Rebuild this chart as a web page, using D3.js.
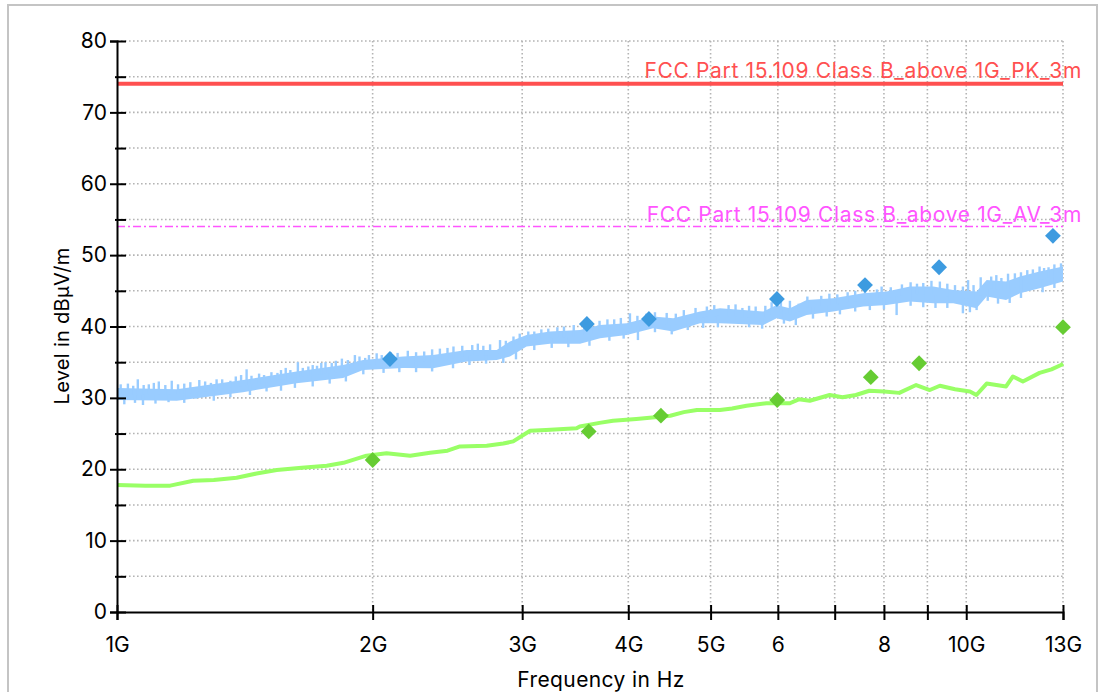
<!DOCTYPE html>
<html>
<head>
<meta charset="utf-8">
<script src="https://cdn.jsdelivr.net/npm/d3@7"></script>
<style>
  body { margin: 0; background: #fff; }
  svg { display: block; font-family: Inter, 'Liberation Sans', sans-serif; }
</style>
</head>
<body>
<div id="chart"></div>
<script>
// frequencies in GHz, levels in dBuV/m
const xTicks = [1, 2, 3, 4, 5, 6, 7, 8, 9, 10, 13];
const xTickLabels = ['1G', '2G', '3G', '4G', '5G', '6', '', '8', '', '10G', '13G'];
const yTicks = [0, 5, 10, 15, 20, 25, 30, 35, 40, 45, 50, 55, 60, 65, 70, 75, 80];

const limitPK = 74;
const limitAV = 54;
const limitPKLabel = 'FCC Part 15.109 Class B_above 1G_PK_3m';
const limitAVLabel = 'FCC Part 15.109 Class B_above 1G_AV_3m';

// peak trace (drawn as a noisy band)
const pkFreq = [1.0, 1.176, 1.407, 1.627, 1.846, 1.949, 2.172, 2.356, 2.58, 2.8, 2.902, 3.036, 3.235,
  3.51, 3.705, 3.983, 4.28, 4.519, 4.859, 5.129, 5.768, 5.981, 6.199, 6.488, 6.972, 7.563, 8.058,
  8.585, 9.145, 9.654, 10.285, 10.57, 11.14, 11.57, 12.2, 13.0];
const pkHigh = [31.4, 31.2, 32.5, 33.7, 34.6, 35.3, 35.8, 36.0, 36.7, 36.7, 37.9, 38.8, 39.3,
  39.5, 40.2, 40.45, 41.4, 41.15, 42.1, 42.55, 42.1, 43.0, 42.55, 43.7, 43.95, 44.65, 44.9,
  45.6, 45.6, 45.1, 44.9, 46.5, 46.3, 47.0, 47.7, 48.4];
const pkLow = [29.7, 29.6, 30.8, 32.05, 32.8, 33.9, 34.2, 34.15, 35.1, 35.3, 35.8, 37.2, 37.6,
  37.6, 38.35, 38.8, 39.75, 39.3, 40.45, 40.45, 40.2, 41.15, 40.7, 41.6, 42.1, 42.8, 43.0,
  43.5, 43.25, 43.25, 42.55, 44.2, 43.7, 44.65, 45.35, 46.3];

const spikeUpFreq = [1.01, 1.03, 1.045, 1.058, 1.075, 1.09, 1.105, 1.12, 1.14, 1.16, 1.18,
  1.2, 1.22, 1.25, 1.27, 1.29, 1.31, 1.33, 1.36, 1.38, 1.4, 1.421, 1.44,
  1.47, 1.49, 1.52, 1.545, 1.56, 1.58, 1.6, 1.633, 1.655, 1.68, 1.7,
  1.72, 1.74, 1.76, 1.79, 1.81, 1.84, 1.87, 1.906, 1.93, 1.96, 1.98,
  2.022, 2.05, 2.1, 2.14, 2.2, 2.25, 2.3, 2.35, 2.4, 2.45, 2.49,
  2.55, 2.62, 2.66, 2.7, 2.75, 2.825, 2.87, 2.93, 2.98,
  3.05, 3.1, 3.16, 3.22, 3.3, 3.36, 3.45,
  3.55, 3.62, 3.7, 3.78, 3.85, 3.92, 4.018, 4.1, 4.2, 4.3, 4.439,
  4.55, 4.65, 4.8, 4.95, 5.05, 5.25, 5.35, 5.45, 5.55, 5.65, 5.8, 5.9,
  6.05, 6.2, 6.35, 6.5, 6.75, 6.9, 7.05, 7.25, 7.4, 7.6, 7.85, 7.95,
  8.15, 8.4, 8.6, 8.75, 8.9, 9.1, 9.31, 9.5, 9.7, 9.91,
  10.05, 10.2, 10.4, 10.7, 10.85, 11.0, 11.2, 11.41, 11.6, 11.8, 11.98, 12.2, 12.35, 12.5, 12.7, 12.93];
const spikeUpLevel = [31.9, 32.0, 31.7, 32.6, 31.8, 31.9, 32.1, 32.3, 31.8, 32.4, 31.9,
  32.0, 32.2, 32.5, 32.3, 32.1, 32.6, 32.6, 32.4, 33.0, 33.2, 34.0, 33.1,
  33.4, 33.2, 33.6, 33.5, 33.9, 34.2, 33.9, 35.0, 34.2, 34.4, 34.6,
  34.5, 34.9, 35.0, 34.9, 35.2, 35.5, 35.3, 36.0, 35.8, 35.6, 36.0,
  36.25, 36.0, 36.4, 36.3, 36.6, 36.4, 36.5, 36.8, 36.9, 37.0, 37.2,
  37.3, 37.4, 37.6, 37.3, 37.5, 38.1, 38.0, 38.6, 39.0,
  39.3, 39.3, 39.6, 39.7, 39.9, 40.0, 40.2,
  40.3, 40.6, 40.8, 41.0, 41.0, 41.2, 41.85, 41.5, 41.8, 42.0, 41.9,
  41.8, 42.3, 42.6, 42.8, 43.0, 43.0, 43.1, 42.6, 42.9, 42.8, 42.9, 43.4,
  43.8, 43.6, 43.2, 44.2, 44.3, 44.6, 44.5, 44.8, 45.0, 45.3, 45.2, 45.6,
  45.5, 45.9, 46.2, 46.0, 46.1, 46.4, 46.3, 46.0, 45.8, 45.6,
  46.5, 45.8, 46.9, 47.0, 47.2, 46.8, 47.4, 47.45, 47.6, 47.9, 48.0, 48.4, 48.2, 48.3, 48.7, 48.85];
const spikeDownFreq = [1.02, 1.05, 1.073, 1.11, 1.15, 1.2, 1.24, 1.3, 1.36, 1.434, 1.5, 1.56, 1.62,
  1.7, 1.78, 1.86, 1.95, 2.06, 2.15, 2.25, 2.35, 2.487, 2.6, 2.72, 2.85, 2.95, 3.1, 3.25, 3.4,
  3.6, 3.8, 3.95, 4.106, 4.3, 4.5, 4.7, 4.9, 5.1, 5.55, 5.75, 6.1, 6.3, 6.6, 6.85, 7.1, 7.4,
  7.7, 8.0, 8.28, 8.6, 8.9, 9.2, 9.5, 9.91, 10.1, 10.285, 10.6, 10.9, 11.25, 11.6, 12.3, 12.7];
const spikeDownLevel = [29.1, 29.3, 29.0, 29.2, 29.4, 29.3, 29.9, 29.6, 30.1, 30.4, 30.9, 31.0, 31.4,
  31.6, 32.0, 32.3, 33.3, 33.5, 33.6, 33.6, 33.7, 34.15, 34.6, 34.8, 34.9, 35.4, 36.7, 37.0, 37.1,
  37.3, 38.0, 38.3, 38.1, 39.2, 38.9, 39.5, 39.8, 39.9, 39.9, 39.7, 40.4, 40.2, 41.1, 41.4, 41.7, 42.1,
  42.3, 42.4, 41.6, 42.9, 42.7, 42.6, 42.6, 41.85, 42.0, 42.3, 43.6, 43.2, 43.3, 44.0, 44.8, 45.4];

// average trace
const avFreq = [1.0, 1.08, 1.155, 1.23, 1.3, 1.383, 1.46, 1.542, 1.65, 1.766, 1.848, 1.967, 2.077,
  2.214, 2.337, 2.45, 2.534, 2.725, 2.85, 2.928, 3.065, 3.2, 3.477, 3.507, 3.7, 3.838, 4.088, 4.3,
  4.482, 4.65, 4.818, 5.128, 5.3, 5.512, 5.817, 6.199, 6.35, 6.543, 6.906, 7.15, 7.414, 7.69,
  8.0, 8.34, 8.73, 9.06, 9.31, 9.7, 10.1, 10.28, 10.57, 11.14, 11.35, 11.66, 12.2, 12.6, 12.93, 13.0];
const avLevel = [17.8, 17.7, 17.7, 18.4, 18.5, 18.8, 19.4, 19.9, 20.2, 20.5, 20.9, 21.9, 22.25,
  21.9, 22.3, 22.6, 23.2, 23.3, 23.6, 23.9, 25.4, 25.5, 25.75, 26.0, 26.5, 26.8, 27.05, 27.3,
  27.5, 28.0, 28.3, 28.3, 28.5, 28.9, 29.25, 29.25, 29.8, 29.6, 30.4, 30.1, 30.4, 31.0,
  30.9, 30.7, 31.8, 31.1, 31.7, 31.2, 30.9, 30.4, 32.0, 31.6, 33.0, 32.3, 33.5, 34.0, 34.6, 34.8];

// final measurement markers
const pkMarkFreq = [2.096, 3.575, 4.23, 5.985, 7.6, 9.29, 12.65];
const pkMarkLevel = [35.45, 40.35, 41.05, 43.85, 45.8, 48.3, 52.7];
const avMarkFreq = [2.0, 3.593, 4.37, 5.99, 7.72, 8.8, 13.0];
const avMarkLevel = [21.3, 25.3, 27.5, 29.7, 32.9, 34.85, 39.9];

const width = 1100;
const height = 692;
const plot = { l: 117, r: 1063, t: 41, b: 612 };

const svg = d3
  .select('#chart')
  .append('svg')
  .attr('width', width)
  .attr('height', height);

// outer frame
svg
  .append('rect')
  .attr('x', 8)
  .attr('y', 5)
  .attr('width', 1089)
  .attr('height', 700)
  .attr('fill', 'none')
  .attr('stroke', '#c4c4c4')
  .attr('stroke-width', 2);

const x = d3.scaleLog().domain([1, 13]).range([plot.l, plot.r]);
const y = d3.scaleLinear().domain([0, 80]).range([plot.b, plot.t]);

// grid
const grid = svg.append('g').attr('stroke', '#b4b4b4').attr('stroke-width', 1.6).attr('stroke-dasharray', '1.6,2.4');
grid
  .selectAll('.gy')
  .data(yTicks.filter((d) => d > 0))
  .join('line')
  .attr('x1', plot.l)
  .attr('x2', plot.r)
  .attr('y1', (d) => y(d))
  .attr('y2', (d) => y(d));
grid
  .selectAll('.gx')
  .data(xTicks.filter((d) => d > 1))
  .join('line')
  .attr('x1', (d) => x(d))
  .attr('x2', (d) => x(d))
  .attr('y1', plot.t)
  .attr('y2', plot.b);

// limit lines
svg
  .append('line')
  .attr('x1', x(1))
  .attr('x2', x(13))
  .attr('y1', y(limitPK))
  .attr('y2', y(limitPK))
  .attr('stroke', '#ff5050')
  .attr('stroke-width', 4);
svg
  .append('line')
  .attr('x1', x(1))
  .attr('x2', x(13))
  .attr('y1', y(limitAV))
  .attr('y2', y(limitAV))
  .attr('stroke', '#ff55ff')
  .attr('stroke-width', 1.5)
  .attr('stroke-dasharray', '8,3,2,3');

// average trace
const avData = avFreq.map((f, i) => [f, avLevel[i]]);
svg
  .append('path')
  .datum(avData)
  .attr('fill', 'none')
  .attr('stroke', '#99ff66')
  .attr('stroke-width', 4)
  .attr('stroke-linejoin', 'round')
  .attr('d', d3.line().x((d) => x(d[0])).y((d) => y(d[1])));

// peak trace band
const pkData = pkFreq.map((f, i) => ({ f, hi: pkHigh[i], lo: pkLow[i] }));
svg
  .append('path')
  .datum(pkData)
  .attr('fill', '#99ccff')
  .attr('d', d3.area().x((d) => x(d.f)).y0((d) => y(d.lo)).y1((d) => y(d.hi)));

const bis = d3.bisector((d) => d.f).left;
function bandMid(f) {
  const i = Math.max(1, Math.min(pkData.length - 1, bis(pkData, f)));
  const a = pkData[i - 1];
  const b = pkData[i];
  const t = (Math.log(f) - Math.log(a.f)) / (Math.log(b.f) - Math.log(a.f));
  return ((a.hi + a.lo) / 2) * (1 - t) + ((b.hi + b.lo) / 2) * t;
}

const spikes = spikeUpFreq
  .map((f, i) => [f, spikeUpLevel[i]])
  .concat(spikeDownFreq.map((f, i) => [f, spikeDownLevel[i]]));
svg
  .append('g')
  .attr('stroke', '#99ccff')
  .attr('stroke-width', 2.4)
  .selectAll('line')
  .data(spikes)
  .join('line')
  .attr('x1', (d) => x(d[0]))
  .attr('x2', (d) => x(d[0]))
  .attr('y1', (d) => y(bandMid(d[0])))
  .attr('y2', (d) => y(d[1]));

// limit labels
svg
  .append('text')
  .attr('x', 1082)
  .attr('y', 78)
  .attr('text-anchor', 'end')
  .attr('font-size', 21)
  .attr('letter-spacing', 0.65)
  .attr('fill', '#ff5050')
  .text(limitPKLabel);
svg
  .append('text')
  .attr('x', 1082)
  .attr('y', 222)
  .attr('text-anchor', 'end')
  .attr('font-size', 21)
  .attr('letter-spacing', 0.65)
  .attr('fill', '#ff55ff')
  .text(limitAVLabel);

// markers
const diamond = d3.symbol(d3.symbolSquare, 125);
svg
  .append('g')
  .selectAll('path')
  .data(pkMarkFreq.map((f, i) => [f, pkMarkLevel[i]]))
  .join('path')
  .attr('d', diamond)
  .attr('fill', '#3d9be0')
  .attr('transform', (d) => `translate(${x(d[0])},${y(d[1])}) rotate(45)`);
svg
  .append('g')
  .selectAll('path')
  .data(avMarkFreq.map((f, i) => [f, avMarkLevel[i]]))
  .join('path')
  .attr('d', diamond)
  .attr('fill', '#66cc33')
  .attr('transform', (d) => `translate(${x(d[0])},${y(d[1])}) rotate(45)`);

// axes
const yAxis = svg
  .append('g')
  .attr('transform', `translate(${plot.l},0)`)
  .call(
    d3
      .axisLeft(y)
      .tickValues(yTicks)
      .tickFormat((d) => (d % 10 === 0 ? d : ''))
      .tickSizeOuter(0)
      .tickSize(7)
      .tickPadding(3),
  );
yAxis.selectAll('.tick line').attr('x1', 9).attr('x2', (d) => (d % 10 === 0 ? -7 : -2));

const xAxis = svg
  .append('g')
  .attr('transform', `translate(0,${plot.b})`)
  .call(
    d3
      .axisBottom(x)
      .tickValues(xTicks)
      .tickFormat((d, i) => xTickLabels[i])
      .tickSizeOuter(0)
      .tickSize(8)
      .tickPadding(17),
  );
xAxis.selectAll('.tick line').attr('y1', -7);

svg.selectAll('.domain, .tick line').attr('stroke', '#000').attr('stroke-width', 2);
svg
  .selectAll('.tick text')
  .attr('font-size', 21)
  .attr('font-family', "Inter, 'Liberation Sans', sans-serif")
  .attr('fill', '#000');

// axis titles
svg
  .append('text')
  .attr('x', 601)
  .attr('y', 687)
  .attr('text-anchor', 'middle')
  .attr('font-size', 21)
  .attr('letter-spacing', 0.4)
  .text('Frequency in Hz');
svg
  .append('text')
  .attr('transform', 'translate(69,326) rotate(-90)')
  .attr('text-anchor', 'middle')
  .attr('font-size', 20)
  .attr('letter-spacing', 0.3)
  .text('Level in dBµV/m');
</script>
</body>
</html>
